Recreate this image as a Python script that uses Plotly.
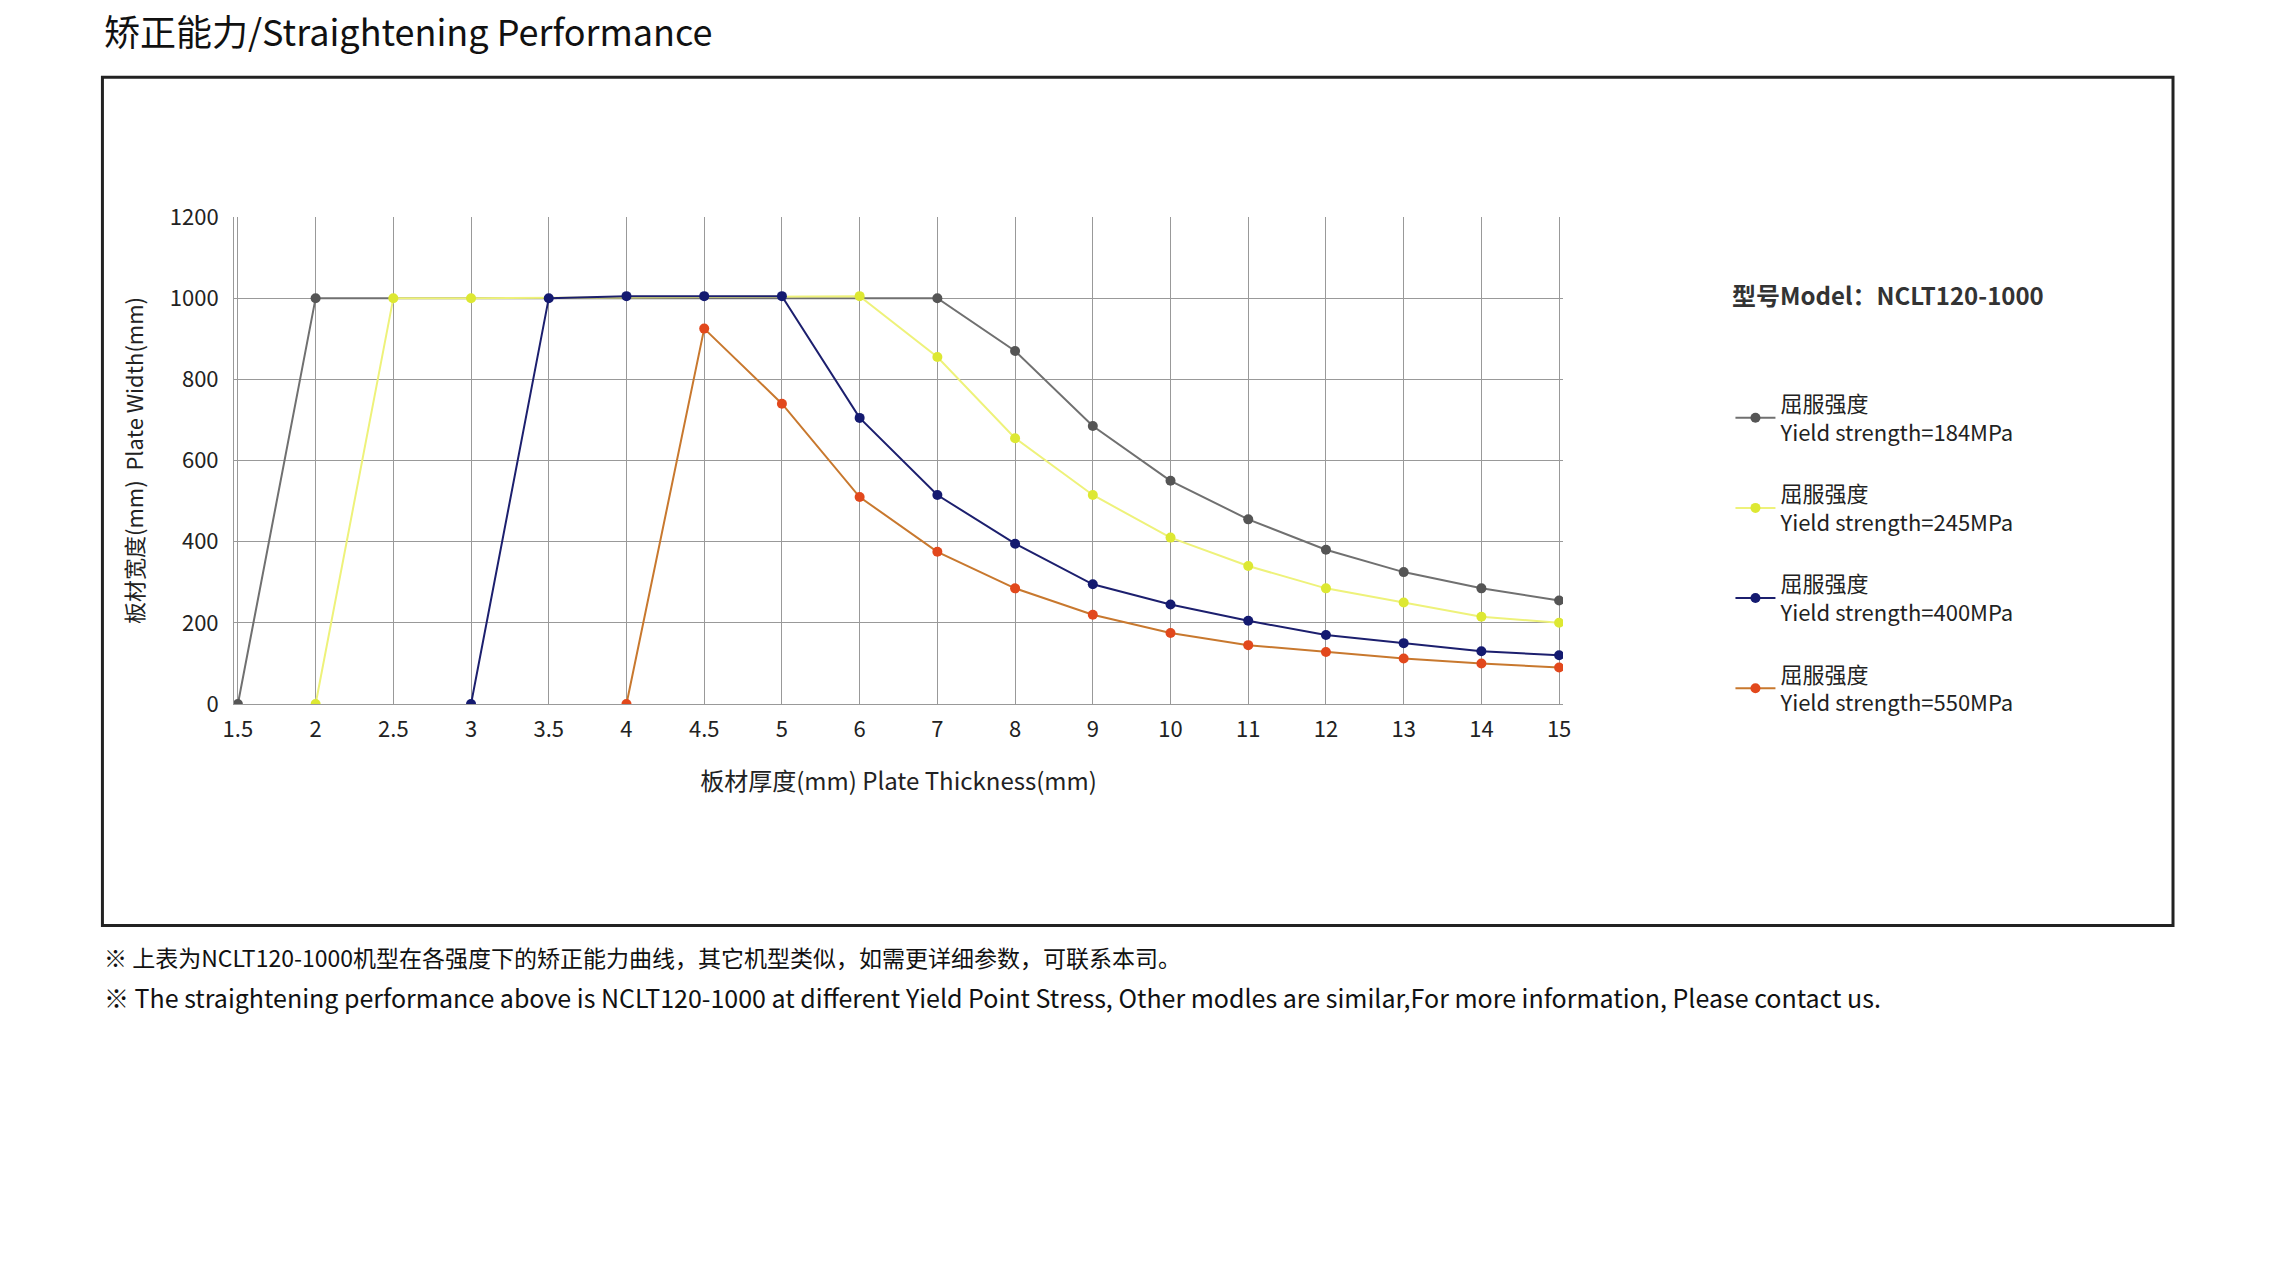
import plotly.graph_objects as go

cats = ["1.5","2","2.5","3","3.5","4","4.5","5","6","7","8","9","10","11","12","13","14","15"]
s184_x = ["1.5","2","7","8","9","10","11","12","13","14","15"]
s184_y = [0,1000,1000,870,685,550,455,380,325,285,255]
s245_x = ["2","2.5","3","6","7","8","9","10","11","12","13","14","15"]
s245_y = [0,1000,1000,1005,855,655,515,410,340,285,250,215,200]
s400_x = ["3","3.5","4","4.5","5","6","7","8","9","10","11","12","13","14","15"]
s400_y = [0,1000,1005,1005,1005,705,515,395,295,245,205,170,150,130,120]
s550_x = ["4","4.5","5","6","7","8","9","10","11","12","13","14","15"]
s550_y = [0,925,740,510,375,285,220,175,145,128,112,100,90]
yticks = [0,200,400,600,800,1000,1200]

series = [
    ("184", s184_x, s184_y, "#707070", "#555555"),
    ("245", s245_x, s245_y, "#eef27a", "#dde832"),
    ("400", s400_x, s400_y, "#1c1f6e", "#141a70"),
    ("550", s550_x, s550_y, "#c8782e", "#e2481c"),
]
fig = go.Figure()
for name, xs, ys, lc, mc in series:
    fig.add_trace(go.Scatter(x=xs, y=ys, mode="lines+markers", legendgroup=name,
        name=f"屈服强度<br>Yield strength={name}MPa",
        line=dict(color=lc, width=2), marker=dict(color=mc, size=10)))

font = "Noto Sans CJK SC"
fig.update_layout(
    width=2289, height=1279, paper_bgcolor="white", plot_bgcolor="white",
    margin=dict(l=226, r=734, t=209, b=583),
    font=dict(family=font, size=22, color="#222"),
    xaxis=dict(type="category", categoryorder="array", categoryarray=cats,
               range=[-0.05, 17.05], showgrid=True, gridcolor="#999", gridwidth=1,
               showline=True, linecolor="#999", ticks="outside", ticklen=6, tickcolor="white",
               tickfont=dict(size=22),
               title=dict(text="板材厚度(mm) Plate Thickness(mm)", font=dict(size=24), standoff=30)),
    yaxis=dict(range=[0,1200], tickvals=yticks, showgrid=True, gridcolor="#999",
               showline=True, linecolor="#999", ticks="outside", ticklen=10, tickcolor="white",
               tickfont=dict(size=22), zeroline=False,
               title=dict(text="板材宽度(mm)  Plate Width(mm)", font=dict(size=22), standoff=20)),
    legend=dict(x=1.126, y=0.66, xanchor="left", yanchor="top", font=dict(size=22),
                itemwidth=40, tracegroupgap=30, bgcolor="rgba(0,0,0,0)"),
    showlegend=True,
)
fig.add_shape(type="rect", xref="paper", yref="paper", x0=-0.099, x1=1.459, y0=-0.455, y1=1.287,
              line=dict(color="#222", width=3))
fig.add_annotation(text="矫正能力/Straightening Performance", xref="paper", yref="paper",
                   x=-0.099, y=1.384, xanchor="left", yanchor="middle", showarrow=False,
                   font=dict(size=36, color="#111"))
fig.add_annotation(text="<b>型号Model：NCLT120-1000</b>", xref="paper", yref="paper",
                   x=1.126, y=0.88, xanchor="left", showarrow=False, font=dict(size=24, color="#333"))
fig.add_annotation(text="※ 上表为NCLT120-1000机型在各强度下的矫正能力曲线，其它机型类似，如需更详细参数，可联系本司。",
                   xref="paper", yref="paper", x=-0.099, y=-0.558, xanchor="left", showarrow=False,
                   font=dict(size=23, color="#111"))
fig.add_annotation(text="※ The straightening performance above is NCLT120-1000 at different Yield Point Stress, Other modles are similar,For more information, Please contact us.",
                   xref="paper", yref="paper", x=-0.099, y=-0.643, xanchor="left", showarrow=False,
                   font=dict(size=25, color="#111"))
fig.write_html("out.html")
